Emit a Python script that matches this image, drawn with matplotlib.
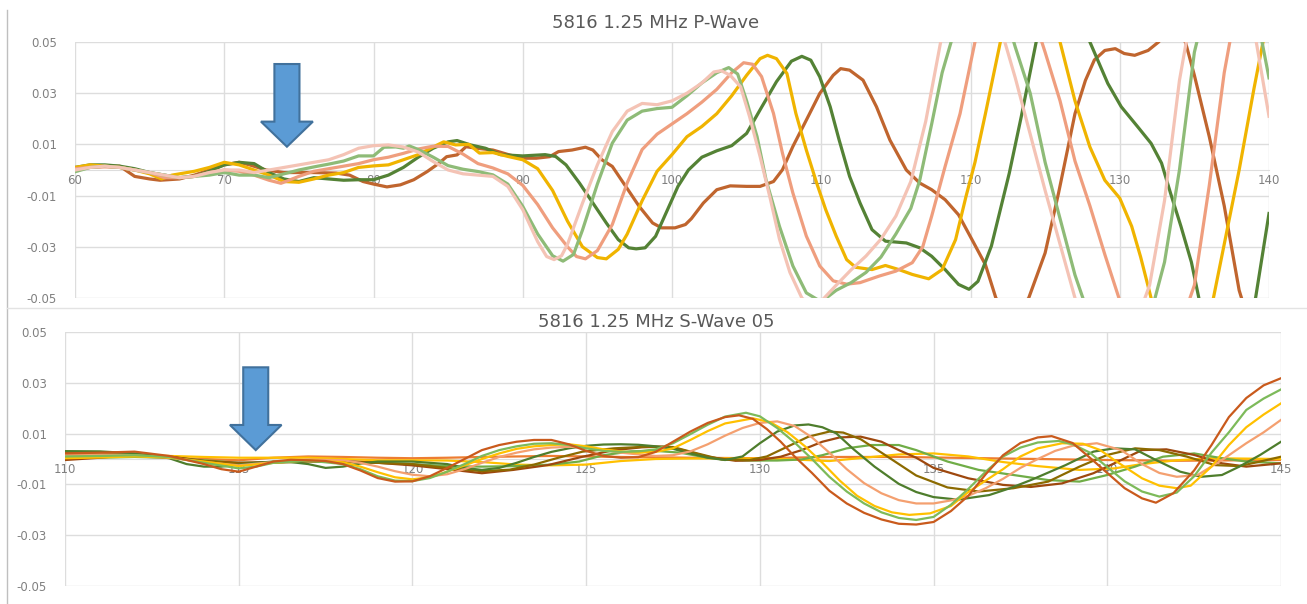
import matplotlib
matplotlib.use("Agg")
import matplotlib.pyplot as plt
from matplotlib.lines import Line2D
from matplotlib.patches import Polygon

plt.rcParams['font.family'] = ['DejaVu Sans']

# ---------------- P-wave traces: (time, amplitude) ----------------
p_light_pink = [(60, 0.0), (61, 0.001), (62, 0.0015), (63, 0.001), (64, 0.0), (65, -0.001), (66, -0.002),
                (67, -0.003), (68, -0.0025), (69, -0.001), (70, 0.0), (71, 0.0), (72, -0.001), (73, 0.0),
                (74, 0.001), (75, 0.002), (76, 0.003), (77, 0.004), (78, 0.006), (79, 0.0085), (80, 0.0095),
                (81, 0.0098), (82, 0.009), (83, 0.007), (84, 0.0033), (85, 0.0), (86, -0.0015), (87, -0.002),
                (88, -0.0025), (89, -0.0064), (90, -0.0155), (91, -0.028), (91.6, -0.0338), (92.1, -0.035),
                (92.6, -0.0335), (93, -0.029), (94, -0.013), (95, 0.002), (96, 0.015), (97, 0.023), (98, 0.026),
                (99, 0.0255), (100, 0.027), (101, 0.030), (102, 0.034), (102.8, 0.0383), (103.3, 0.0388),
                (103.9, 0.037), (104.6, 0.0325), (105.2, 0.0208), (105.9, 0.0053), (106.6, -0.0116),
                (107.2, -0.027), (107.9, -0.040), (108.7, -0.050), (109.5, -0.054), (110.2, -0.050),
                (111, -0.045), (112, -0.039), (113, -0.0336), (114, -0.027), (115, -0.018), (116, -0.0045),
                (117, 0.019), (118, 0.050), (119, 0.066), (120, 0.072), (121, 0.068), (122, 0.056), (123, 0.036),
                (124, 0.014), (125, -0.008), (126, -0.029), (127, -0.050), (128, -0.064), (129, -0.070),
                (130, -0.068), (131, -0.061), (132, -0.045), (133, -0.012), (134, 0.035), (135, 0.068),
                (136, 0.080), (137, 0.082), (138, 0.075), (139, 0.055), (140, 0.021)]

p_light_green = [(60, -0.0007), (61, 0.001), (62, 0.0015), (63, 0.001), (64, 0.0), (65, -0.001), (66, -0.002),
                 (67, -0.003), (68, -0.0025), (69, -0.002), (70, -0.001), (71, -0.002), (72, -0.002),
                 (73, -0.003), (74, -0.0015), (75, 0.0), (76, 0.0012), (77, 0.0023), (78, 0.0035), (79, 0.0055),
                 (80, 0.0055), (80.7, 0.0089), (81.5, 0.009), (82, 0.0085), (82.4, 0.0094), (83, 0.008),
                 (84, 0.005), (85, 0.0017), (86, 0.0003), (87, -0.0006), (88, -0.0019), (89, -0.0055),
                 (90, -0.0142), (91, -0.025), (92, -0.0335), (92.7, -0.0356), (93.4, -0.033), (94, -0.0235),
                 (95, -0.0055), (96, 0.0105), (97, 0.0195), (98, 0.023), (99, 0.024), (100, 0.0245), (101, 0.029),
                 (102, 0.034), (103, 0.038), (103.8, 0.040), (104.4, 0.0375), (105, 0.027), (105.7, 0.013),
                 (106.3, -0.0038), (107.2, -0.022), (108.1, -0.0375), (109, -0.048), (110, -0.0515),
                 (111, -0.047), (112, -0.044), (113, -0.040), (114, -0.034), (115, -0.025), (116, -0.015),
                 (116.6, -0.004), (117.4, 0.018), (118.1, 0.038), (118.7, 0.050), (119.5, 0.063), (120.5, 0.071),
                 (121.5, 0.070), (122.3, 0.062), (123, 0.048), (124, 0.030), (125, 0.003), (126, -0.019),
                 (127, -0.041), (128, -0.058), (129, -0.068), (130, -0.070), (131, -0.066), (132, -0.058),
                 (133, -0.036), (134, 0.0), (135, 0.046), (136, 0.070), (137, 0.080), (138, 0.080), (139, 0.066),
                 (140, 0.036)]

p_salmon = [(60, 0.0005), (61, 0.001), (62, 0.0012), (63, 0.001), (64, 0.0), (65, -0.001), (66, -0.003),
            (67, -0.003), (68, -0.0025), (69, -0.001), (70, 0.0), (71, -0.0005), (72, -0.002), (73, -0.004),
            (73.8, -0.0052), (75, -0.0025), (76, -0.0005), (77, 0.0005), (78, 0.0015), (79, 0.0025), (80, 0.004),
            (81, 0.005), (82, 0.0065), (83, 0.0082), (84, 0.0093), (85, 0.0092), (86, 0.0062), (87, 0.0025),
            (88, 0.0008), (89, -0.0015), (90, -0.006), (91, -0.0135), (92, -0.0226), (93, -0.030),
            (93.6, -0.0338), (94.2, -0.0347), (95, -0.0315), (96, -0.0213), (97, -0.005), (98, 0.008),
            (99, 0.014), (100, 0.018), (101, 0.022), (102, 0.0265), (103, 0.0315), (104, 0.038), (104.8, 0.0419),
            (105.4, 0.0413), (106, 0.0365), (106.8, 0.0221), (107.4, 0.0066), (108.1, -0.009), (109, -0.0258),
            (109.9, -0.0375), (110.8, -0.0433), (111.7, -0.0446), (112.6, -0.044), (113.9, -0.0414),
            (115, -0.0395), (116.1, -0.0362), (116.8, -0.030), (117.4, -0.018), (118.3, 0.0014), (119.3, 0.022),
            (120.3, 0.050), (121, 0.065), (122, 0.074), (123, 0.073), (124, 0.064), (125, 0.046), (126, 0.027),
            (127, 0.0035), (128, -0.014), (129, -0.033), (130, -0.051), (131, -0.064), (132, -0.071),
            (133, -0.070), (134, -0.062), (135, -0.045), (136, -0.006), (137, 0.038), (138, 0.070), (139, 0.082),
            (140, 0.085)]

p_gold = [(60, 0.001), (61, 0.002), (62, 0.0015), (63, 0.001), (64, 0.0), (65, -0.0015), (65.8, -0.0035),
          (66.5, -0.002), (67, -0.0015), (68, -0.0005), (69, 0.001), (70, 0.003), (71, 0.002), (72, 0.0),
          (73, -0.002), (74, -0.0045), (75, -0.0048), (76, -0.0035), (77, -0.002), (78, -0.001), (79, 0.001),
          (80, 0.0016), (81, 0.002), (82, 0.004), (83, 0.006), (84, 0.009), (84.7, 0.011), (85.5, 0.0098),
          (86.4, 0.010), (87.1, 0.0066), (88, 0.0068), (89, 0.0053), (90, 0.004), (91, 0.0005), (92, -0.008),
          (93, -0.020), (94, -0.030), (95, -0.0342), (95.6, -0.0347), (96.4, -0.031), (97, -0.025), (98, -0.012),
          (99, -0.0005), (100, 0.006), (101, 0.013), (102, 0.017), (103, 0.022), (104, 0.029), (105, 0.037),
          (105.9, 0.0435), (106.4, 0.0448), (107, 0.0435), (107.7, 0.0377), (108.3, 0.0221), (109, 0.0078),
          (109.7, -0.0052), (110.3, -0.0155), (111, -0.0258), (111.7, -0.035), (112.3, -0.038),
          (113.4, -0.0389), (114.3, -0.0373), (115.2, -0.0389), (116.1, -0.0408), (117.2, -0.0425),
          (118.1, -0.0389), (119, -0.0272), (119.7, -0.0103), (120.3, 0.003), (121, 0.022), (122, 0.050),
          (123, 0.068), (124, 0.076), (125, 0.070), (126, 0.050), (127, 0.027), (128, 0.009), (129, -0.004),
          (130, -0.011), (130.8, -0.022), (131.4, -0.034), (132.1, -0.050), (133, -0.068), (134, -0.080),
          (135, -0.078), (136, -0.058), (137, -0.029), (138, 0.0), (139, 0.032), (140, 0.062)]

p_dark_green = [(60, 0.001), (61, 0.002), (62, 0.002), (63, 0.0015), (64, 0.0005), (65, -0.001), (66, -0.002),
                (67, -0.003), (68, -0.0025), (69, -0.0005), (70, 0.002), (71, 0.003), (72, 0.0025), (73, -0.001),
                (74, -0.0035), (75, -0.0045), (76, -0.003), (77, -0.0035), (78, -0.004), (79, -0.0038),
                (80, -0.0038), (81, -0.002), (82, 0.001), (83, 0.005), (84, 0.0085), (85, 0.011), (85.6, 0.0115),
                (86.5, 0.0098), (87.5, 0.0085), (88.5, 0.006), (90, 0.0055), (91.5, 0.006), (92.2, 0.0053),
                (92.9, 0.002), (93.8, -0.0051), (94.7, -0.0129), (95.6, -0.0207), (96.4, -0.0272),
                (97.1, -0.0304), (97.6, -0.0308), (98.2, -0.0304), (98.9, -0.0259), (99.6, -0.0168),
                (100.4, -0.0064), (101.1, 0.0), (102, 0.005), (103, 0.0075), (104, 0.0095), (105, 0.0143),
                (106, 0.0245), (107, 0.0345), (108, 0.0425), (108.7, 0.0444), (109.3, 0.0429), (109.9, 0.0364),
                (110.6, 0.0247), (111.2, 0.0117), (111.9, -0.0025), (112.6, -0.0129), (113.4, -0.0233),
                (114.3, -0.0278), (115.7, -0.0285), (116.6, -0.0304), (117.4, -0.0337), (118.3, -0.0389),
                (119.2, -0.0447), (119.9, -0.0466), (120.5, -0.0435), (121.4, -0.0297), (122.6, -0.0012),
                (123.4, 0.0208), (124.4, 0.050), (125, 0.061), (126, 0.070), (127, 0.066), (128, 0.050),
                (129.2, 0.0338), (130.1, 0.0247), (131.2, 0.0169), (132.1, 0.0104), (132.8, 0.0027),
                (133.4, -0.009), (134.1, -0.022), (134.8, -0.036), (135.3, -0.050), (136, -0.068), (137, -0.078),
                (138, -0.072), (139.1, -0.050), (140, -0.017)]

p_brown = [(60, 0.0005), (61, 0.001), (62, 0.0015), (63, 0.0015), (64, -0.0025), (65, -0.0035), (65.7, -0.004),
           (67, -0.0035), (68, -0.002), (69, 0.0), (70, 0.002), (71, 0.003), (71.7, 0.002), (72.8, 0.0),
           (74, -0.001), (76, -0.001), (77.5, -0.0012), (78.4, -0.002), (79.3, -0.0045), (80, -0.0055),
           (80.9, -0.0066), (81.8, -0.0058), (82.7, -0.0038), (83.6, -0.0006), (84.4, 0.0027), (84.9, 0.0052),
           (85.6, 0.0059), (86.2, 0.0091), (86.9, 0.0085), (88, 0.0078), (89.1, 0.0059), (90, 0.0046),
           (90.9, 0.0046), (91.8, 0.0052), (92.4, 0.0072), (93.3, 0.0078), (94.2, 0.0089), (94.7, 0.0078),
           (95.3, 0.004), (96, 0.0014), (96.9, -0.0064), (97.8, -0.0142), (98.7, -0.0207), (99.3, -0.0226),
           (100.2, -0.0226), (100.9, -0.0213), (101.3, -0.019), (102.1, -0.0129), (103, -0.0077),
           (103.9, -0.0062), (105, -0.0064), (105.9, -0.0064), (106.8, -0.0045), (107.4, 0.0001),
           (108.1, 0.0092), (109, 0.0195), (109.9, 0.0299), (110.8, 0.037), (111.3, 0.0396), (111.9, 0.039),
           (112.8, 0.0351), (113.7, 0.0247), (114.6, 0.0117), (115.7, 0.0), (116.6, -0.0051), (117.4, -0.0077),
           (118.3, -0.0116), (119.2, -0.0175), (120.1, -0.0272), (121, -0.037), (121.7, -0.050),
           (122.8, -0.058), (123.9, -0.050), (125, -0.0324), (125.9, -0.009), (127, 0.022), (127.7, 0.035),
           (128.3, 0.043), (129, 0.0467), (129.7, 0.0474), (130.3, 0.0455), (131, 0.0448), (131.9, 0.0467),
           (132.6, 0.050), (133.5, 0.056), (134.4, 0.050), (135, 0.037), (136, 0.013), (137, -0.014),
           (138, -0.047), (139, -0.066), (140, -0.075)]

# ---------------- S-wave traces: (time, amplitude) ----------------
s_dark_orange = [(110, 0.0022), (111, 0.0025), (112, 0.0029), (113, 0.0012), (114, -0.002), (114.5, -0.004),
                 (115, -0.005), (115.5, -0.003), (116, -0.001), (116.5, -0.0003), (117, -0.0005),
                 (117.5, -0.0008), (118, -0.002), (118.5, -0.0045), (119, -0.0075), (119.5, -0.0089),
                 (120, -0.0088), (120.5, -0.0068), (121, -0.0035), (121.5, 0.0), (122, 0.0035), (122.5, 0.0055),
                 (123, 0.0068), (123.5, 0.0075), (124, 0.0075), (124.5, 0.0058), (125, 0.0032), (125.5, 0.0012),
                 (126, 0.0005), (126.5, 0.0007), (127, 0.0028), (127.5, 0.0068), (128, 0.0108), (128.5, 0.0142),
                 (129, 0.0165), (129.4, 0.0172), (129.8, 0.0158), (130.2, 0.0118), (130.6, 0.0068), (131, 0.001),
                 (131.5, -0.0055), (132, -0.0125), (132.5, -0.0175), (133, -0.0212), (133.5, -0.0238),
                 (134, -0.0255), (134.5, -0.0258), (135, -0.0248), (135.5, -0.0205), (136, -0.0145),
                 (136.5, -0.006), (137, 0.0015), (137.5, 0.0063), (138, 0.0085), (138.4, 0.009), (139, 0.0063),
                 (139.5, 0.0005), (140, -0.0055), (140.5, -0.0115), (141, -0.0155), (141.4, -0.0172),
                 (141.9, -0.0135), (142.5, -0.0045), (143, 0.0055), (143.5, 0.0165), (144, 0.024), (144.5, 0.029),
                 (145, 0.0318)]

s_green = [(110, 0.001), (111, 0.0012), (112, 0.0015), (113, 0.0008), (114, -0.0015), (115, -0.0037),
           (115.5, -0.003), (116, -0.0015), (117, -0.0006), (118, -0.002), (118.5, -0.004), (119, -0.0068),
           (119.5, -0.0085), (120, -0.0087), (120.5, -0.0075), (121, -0.005), (121.5, -0.002), (122, 0.0012),
           (122.5, 0.0035), (123, 0.005), (123.5, 0.006), (124, 0.0062), (124.5, 0.0055), (125, 0.0042),
           (125.5, 0.0032), (126, 0.0028), (126.5, 0.003), (127, 0.0038), (127.5, 0.0062), (128, 0.0098),
           (128.5, 0.0135), (129, 0.0167), (129.6, 0.0182), (130, 0.0168), (130.5, 0.0122), (131, 0.0065),
           (131.5, 0.0), (132, -0.007), (132.5, -0.0128), (133, -0.0175), (133.5, -0.021), (134, -0.0232),
           (134.5, -0.024), (135, -0.0228), (135.5, -0.018), (136, -0.0118), (136.5, -0.005), (137, 0.001),
           (137.5, 0.0045), (138, 0.0065), (138.6, 0.0071), (139, 0.0058), (139.5, 0.0025), (140, -0.0032),
           (140.5, -0.0088), (141, -0.0128), (141.5, -0.0148), (142, -0.0132), (142.5, -0.0068),
           (143, 0.0025), (143.5, 0.0105), (144, 0.0193), (144.5, 0.0238), (145, 0.0274)]

s_gold = [(110, 0.0003), (111, 0.0006), (112, 0.001), (113, 0.0006), (114, -0.001), (115, -0.0028),
          (116, -0.0015), (117, -0.0005), (118, -0.0013), (118.5, -0.003), (119, -0.0052), (119.5, -0.0072),
          (120, -0.008), (120.5, -0.0072), (121, -0.005), (121.5, -0.0025), (122, 0.0), (122.5, 0.0022),
          (123, 0.004), (123.5, 0.005), (124, 0.0055), (124.5, 0.0058), (125, 0.005), (125.5, 0.0038),
          (126, 0.003), (126.5, 0.0025), (127, 0.0028), (127.5, 0.0042), (128, 0.0075), (128.5, 0.011),
          (129, 0.014), (129.8, 0.016), (130.3, 0.0145), (130.8, 0.0105), (131.3, 0.005), (131.8, -0.0015),
          (132.3, -0.0085), (132.8, -0.0145), (133.3, -0.0185), (133.8, -0.021), (134.3, -0.022),
          (134.9, -0.0214), (135.5, -0.0185), (136, -0.013), (136.5, -0.0085), (137, -0.004), (137.5, 0.001),
          (138, 0.0042), (138.7, 0.0062), (139.3, 0.006), (139.8, 0.0035), (140.2, -0.0004), (140.6, -0.004),
          (141, -0.0076), (141.5, -0.0105), (142, -0.0115), (142.4, -0.0105), (143, -0.003), (143.5, 0.0055),
          (144, 0.0125), (144.5, 0.0175), (145, 0.0219)]

s_salmon = [(110, 0.0015), (111, 0.0018), (112, 0.0015), (113, 0.0005), (114, -0.0012), (115, -0.0025),
            (116, -0.0012), (117, -0.0002), (118, -0.0005), (118.5, -0.0015), (119, -0.003), (119.5, -0.0048),
            (120, -0.0062), (120.5, -0.0068), (121, -0.006), (121.5, -0.004), (122, -0.0015), (122.5, 0.0008),
            (123, 0.0025), (123.5, 0.0038), (124, 0.0045), (124.5, 0.0048), (125, 0.0045), (125.5, 0.0035),
            (126, 0.0025), (126.5, 0.0018), (127, 0.0012), (127.5, 0.0015), (128, 0.003), (128.5, 0.0058),
            (129, 0.0092), (129.5, 0.0122), (130, 0.0142), (130.5, 0.0148), (131, 0.013), (131.5, 0.0085),
            (132, 0.0025), (132.5, -0.004), (133, -0.0095), (133.5, -0.0135), (134, -0.0162), (134.5, -0.0175),
            (135, -0.0175), (135.5, -0.0163), (136, -0.0145), (136.5, -0.0115), (137, -0.0078),
            (137.5, -0.0035), (138, 0.0), (138.5, 0.0032), (139, 0.0052), (139.7, 0.0062), (140.4, 0.0035),
            (141, -0.002), (141.5, -0.0055), (142, -0.007), (142.6, -0.0063), (143.3, -0.0004), (144, 0.0062),
            (144.5, 0.0105), (145, 0.0154)]

s_dark_green = [(110, 0.0031), (111, 0.003), (112, 0.0022), (113, 0.0003), (113.5, -0.002), (114, -0.003),
                (114.5, -0.003), (115, -0.0022), (115.5, -0.0015), (116, -0.001), (116.5, -0.0012),
                (117, -0.002), (117.5, -0.0035), (118, -0.003), (118.5, -0.0018), (119, -0.001), (120, -0.001),
                (121, -0.002), (121.5, -0.0035), (122, -0.0043), (122.5, -0.0035), (123, -0.0015),
                (123.5, 0.0008), (124, 0.0028), (124.5, 0.0042), (125, 0.0052), (125.5, 0.0057), (126, 0.0058),
                (126.5, 0.0056), (127, 0.005), (127.5, 0.004), (128, 0.0022), (128.5, 0.0005), (129, -0.0004),
                (129.5, 0.001), (130, 0.0062), (130.5, 0.0108), (131, 0.0132), (131.4, 0.0136),
                (131.8, 0.0125), (132.2, 0.0101), (132.7, 0.0038), (133.3, -0.003), (134, -0.0098),
                (134.5, -0.013), (135, -0.015), (135.7, -0.016), (136.6, -0.0142), (137.2, -0.0115),
                (137.8, -0.0083), (138.8, -0.0024), (139.6, 0.0029), (140.2, 0.0042), (140.8, 0.0038),
                (141.4, -0.0004), (142.1, -0.005), (142.7, -0.007), (143.3, -0.0063), (143.8, -0.003),
                (144.4, 0.0016), (145, 0.0068)]

s_olive = [(110, 0.0025), (111, 0.0025), (112, 0.002), (113, 0.0008), (114, -0.0008), (115, -0.0018),
           (116, -0.0015), (117, -0.001), (118, -0.0012), (119, -0.0015), (120, -0.002), (121, -0.0035),
           (122, -0.0048), (122.8, -0.0042), (123.5, -0.0022), (124.2, 0.0005), (124.9, 0.0029),
           (125.8, 0.0042), (126.8, 0.0049), (127.5, 0.0047), (128.2, 0.0022), (128.9, -0.0002),
           (129.7, -0.0004), (130.2, 0.001), (130.8, 0.0049), (131.4, 0.0088), (132, 0.0108), (132.4, 0.0104),
           (132.9, 0.0078), (133.5, 0.0025), (134, -0.002), (134.5, -0.0065), (135.4, -0.0112),
           (136.3, -0.0128), (137.3, -0.0115), (138.3, -0.0089), (139.2, -0.003), (140, 0.0016),
           (140.8, 0.0042), (141.5, 0.0035), (142.3, 0.0009), (143.1, -0.0024), (143.8, -0.0028),
           (144.4, -0.001), (145, 0.0009)]

s_brown = [(110, -0.0004), (111, 0.0005), (112, 0.0018), (113, 0.001), (114, -0.0008), (115, -0.0015),
           (116, -0.0012), (117, -0.0006), (118, -0.0008), (119, -0.0015), (120, -0.0025), (121, -0.004),
           (122, -0.0056), (122.9, -0.0043), (123.9, -0.0024), (124.9, 0.0009), (125.8, 0.0035),
           (126.6, 0.0046), (127.2, 0.0049), (127.7, 0.0038), (128.5, 0.0009), (129.3, -0.0007),
           (130, -0.0004), (130.6, 0.0009), (131.2, 0.0035), (131.8, 0.0068), (132.3, 0.0085), (132.9, 0.0088),
           (133.5, 0.0068), (134, 0.0035), (134.5, 0.0005), (135, -0.0035), (136, -0.0076), (137, -0.0102),
           (137.8, -0.011), (138.7, -0.0096), (139.6, -0.0056), (140.4, -0.0004), (141, 0.0035),
           (141.7, 0.0038), (142.5, 0.0016), (143.3, -0.0017), (144, -0.003), (145, -0.0017)]

s_light_green = [(110, 0.0008), (111, 0.0005), (112, 0.0008), (113, 0.0005), (114, -0.0005), (115, -0.0015),
                 (116, -0.0012), (117, -0.0008), (118, -0.001), (119, -0.0015), (120, -0.002), (121, -0.0028),
                 (122, -0.003), (123, -0.0028), (124, -0.0022), (124.8, -0.001), (125.5, 0.0015),
                 (126.3, 0.003), (127, 0.0032), (127.7, 0.0025), (128.5, 0.0005), (129.5, -0.0006),
                 (130.5, -0.0006), (131.2, -0.0002), (131.8, 0.0015), (132.5, 0.0042), (133.2, 0.0055),
                 (134, 0.0055), (134.5, 0.0035), (135.4, -0.001), (136.3, -0.0043), (137.3, -0.0063),
                 (138.3, -0.0083), (139.2, -0.0089), (140, -0.0063), (140.8, -0.003), (141.6, 0.0009),
                 (142.5, 0.0022), (143.3, 0.0003), (144, -0.001), (145, -0.0017)]

s_orange_flat = [(110, 0.0018), (111, 0.0015), (112, 0.001), (113, 0.0005), (114, 0.0), (115, -0.0005),
                 (116, 0.0005), (117, 0.001), (118, 0.0008), (119, 0.0005), (120, 0.0003), (121, 0.0005),
                 (122, 0.0008), (124, 0.0012), (126, 0.0008), (128, 0.0005), (130, 0.0003), (132, 0.0008),
                 (134, 0.0008), (136, 0.0004), (138, 0.0), (140, -0.0004), (142, -0.0007), (145, -0.0004)]

s_gold_flat = [(110, 0.001), (111, 0.0008), (112, 0.0015), (113, 0.0012), (114, 0.0008), (115, 0.0005),
               (116, 0.0005), (117, 0.0005), (118, 0.0), (119, -0.0005), (120, -0.0005), (121, -0.0006),
               (122, -0.0012), (123, -0.0022), (124, -0.0025), (125, -0.0022), (126, -0.0008), (127, 0.0),
               (128, 0.0002), (130, 0.0002), (131, -0.0002), (132, -0.0008), (133, 0.0005), (134, 0.0018),
               (135, 0.0022), (136, 0.001), (137, -0.0012), (138, -0.0028), (139.2, -0.0043), (140.2, -0.0037),
               (141, -0.002), (142, -0.0005), (143, 0.0003), (145, 0.0)]

P_SERIES = [
    (p_brown, "#C0652E"),
    (p_dark_green, "#548235"),
    (p_gold, "#F0B400"),
    (p_salmon, "#EF9E7E"),
    (p_light_green, "#8EBB77"),
    (p_light_pink, "#F4C3B5"),
]
S_SERIES = [
    (s_orange_flat, "#ED7D31"),
    (s_gold_flat, "#FFC000"),
    (s_light_green, "#70AD47"),
    (s_brown, "#9E480E"),
    (s_olive, "#8C6A00"),
    (s_dark_green, "#4E7D2C"),
    (s_salmon, "#F4A070"),
    (s_gold, "#FFC000"),
    (s_green, "#7DBA5A"),
    (s_dark_orange, "#C95A1C"),
]

Y_TICKS = [-0.05, -0.03, -0.01, 0.01, 0.03, 0.05]
Y_LABELS = ["-0.05", "-0.03", "-0.01", "0.01", "0.03", "0.05"]
P_XTICKS = list(range(60, 141, 10))
S_XTICKS = list(range(110, 146, 5))

GRID = "#DDDDDD"
LABEL = "#808080"
TITLE = "#595959"

W, H = 1307, 604
fig = plt.figure(figsize=(W / 100, H / 100), dpi=100)


def setup(ax, xlim, xticks):
    ax.set_xlim(*xlim)
    ax.set_ylim(-0.05, 0.05)
    ax.set_xticks(xticks)
    ax.set_xticklabels([str(t) for t in xticks])
    ax.set_yticks(Y_TICKS)
    ax.set_yticklabels(Y_LABELS)
    for side in ("top", "right", "left"):
        ax.spines[side].set_visible(False)
    ax.spines["bottom"].set_position(("data", 0))
    ax.spines["bottom"].set_color(GRID)
    ax.grid(True, color=GRID, lw=1)
    ax.set_axisbelow(True)
    ax.tick_params(axis="both", length=0, labelsize=8.5, labelcolor=LABEL)
    ax.tick_params(axis="x", pad=3)
    ax.tick_params(axis="y", pad=13)


def down_arrow(ax, xc, half_shaft, half_head, y_top, y_neck, y_tip):
    pts = [(xc - half_shaft, y_top), (xc + half_shaft, y_top), (xc + half_shaft, y_neck),
           (xc + half_head, y_neck), (xc, y_tip), (xc - half_head, y_neck), (xc - half_shaft, y_neck)]
    ax.add_patch(Polygon(pts, closed=True, facecolor="#5B9BD5", edgecolor="#41719C",
                         lw=1.5, zorder=5, clip_on=False))


# P-wave
ax1 = fig.add_axes([75 / W, 1 - 298 / H, 1194 / W, 256 / H])
setup(ax1, (60, 140), P_XTICKS)
for pts, col in P_SERIES:
    xs, ys = zip(*pts)
    ax1.plot(xs, ys, color=col, lw=2.3, solid_joinstyle="round", zorder=3)
down_arrow(ax1, 74.2, 0.84, 1.74, 0.0414, 0.0189, 0.0091)
fig.text(656 / W, 1 - 23 / H, "5816 1.25 MHz P-Wave", ha="center", va="center",
         fontsize=13, color=TITLE)

# S-wave
ax2 = fig.add_axes([65 / W, 1 - 586 / H, 1216 / W, 254 / H])
setup(ax2, (110, 145), S_XTICKS)
for pts, col in S_SERIES:
    xs, ys = zip(*pts)
    ax2.plot(xs, ys, color=col, lw=1.6, solid_joinstyle="round", zorder=3)
down_arrow(ax2, 115.49, 0.36, 0.743, 0.0361, 0.0134, 0.0035)
fig.text(656 / W, 1 - 322 / H, "5816 1.25 MHz S-Wave 05", ha="center", va="center",
         fontsize=13, color=TITLE)

# chart area borders
fig.add_artist(Line2D([7 / W, 7 / W], [1 - 10 / H, 0], transform=fig.transFigure, color="#BFBFBF", lw=1))
fig.add_artist(Line2D([7 / W, 1], [1 - 308 / H, 1 - 308 / H], transform=fig.transFigure, color="#E3E3E3", lw=1))

fig.savefig("out.png", dpi=100, facecolor="white")
